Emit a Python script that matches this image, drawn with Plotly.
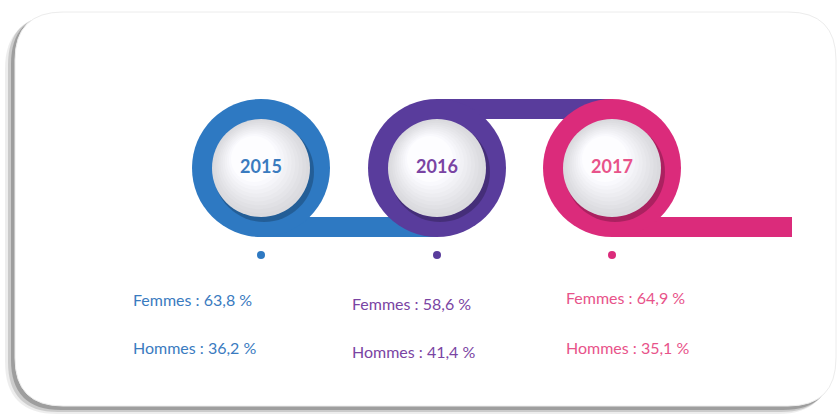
import plotly.graph_objects as go

# data
years = ["2015", "2016", "2017"]
femmes = [63.8, 58.6, 64.9]
hommes = [36.2, 41.4, 35.1]

# styles / layout
ring_colors = ["#2e79c2", "#593c9c", "#db2b7b"]
text_colors = ["#3a7bbf", "#7a44a3", "#e8538a"]
W, H = 838, 414
cx = [261, 437, 612]
cy = 168
R_OUT, R_IN = 69, 49
BAR = 20
text_x = [133, 352, 566]
row_f = [302, 306, 300]
row_h = [350, 354, 350]
FONT = "Lato, Roboto, sans-serif"


def fmt(label, v):
    return f"{label} : {v:.1f} %".replace(".", ",")


def circle(x, y, r, color, line=None):
    return dict(type="circle", xref="x", yref="y", layer="below",
                x0=x - r, x1=x + r, y0=y - r, y1=y + r,
                fillcolor=color, line=line or dict(width=0))


def rect(x0, y0, x1, y1, color):
    return dict(type="rect", xref="x", yref="y", layer="below",
                x0=x0, x1=x1, y0=y0, y1=y1, fillcolor=color, line=dict(width=0))


def rounded(x0, y0, x1, y1, r):
    return (f"M {x0 + r} {y0} L {x1 - r} {y0} Q {x1} {y0} {x1} {y0 + r} "
            f"L {x1} {y1 - r} Q {x1} {y1} {x1 - r} {y1} L {x0 + r} {y1} "
            f"Q {x0} {y1} {x0} {y1 - r} L {x0} {y0 + r} Q {x0} {y0} {x0 + r} {y0} Z")


shapes = []
# card with soft shadow
shapes.append(dict(type="path", xref="x", yref="y", layer="below",
                   path=rounded(5, 17, 830, 414, 52),
                   fillcolor="rgba(0,0,0,0.07)", line=dict(width=0)))
shapes.append(dict(type="path", xref="x", yref="y", layer="below",
                   path=rounded(8, 15, 831, 412, 50),
                   fillcolor="rgba(0,0,0,0.14)", line=dict(width=0)))
shapes.append(dict(type="path", xref="x", yref="y", layer="below",
                   path=rounded(11, 14, 833, 410, 50),
                   fillcolor="rgba(0,0,0,0.22)", line=dict(width=0)))
shapes.append(dict(type="path", xref="x", yref="y", layer="below",
                   path=rounded(15, 12, 836, 406, 48),
                   fillcolor="white", line=dict(color="#ececec", width=1)))

# connectors
shapes.append(rect(cx[0], cy + R_OUT - BAR, cx[1], cy + R_OUT, ring_colors[0]))
shapes.append(rect(cx[1], cy - R_OUT, cx[2], cy - R_OUT + BAR, ring_colors[1]))
shapes.append(rect(cx[2], cy + R_OUT - BAR, 792, cy + R_OUT, ring_colors[2]))

# rings and shaded inner discs
steps = 10
for i in range(len(years)):
    shapes.append(circle(cx[i], cy, R_OUT, ring_colors[i]))
    shapes.append(circle(cx[i] + 3, cy + 4, R_IN + 1, "rgba(0,0,0,0.22)"))
    for k in range(steps):
        t = k / (steps - 1)
        g = int(218 + (253 - 218) * t)
        shapes.append(circle(cx[i] - 7 * t, cy - 9 * t, R_IN - 26 * t,
                             f"rgb({g},{g},{min(255, g + 4)})"))

fig = go.Figure()

# year labels
fig.add_trace(go.Scatter(
    x=cx, y=[cy] * len(years), mode="text", text=years,
    textfont=dict(family=FONT, size=18, color=text_colors, weight="bold"),
    hoverinfo="skip", showlegend=False))

# dots
fig.add_trace(go.Scatter(
    x=cx, y=[255] * len(years), mode="markers",
    marker=dict(size=8, color=ring_colors), hoverinfo="skip", showlegend=False))

# percentages
fig.add_trace(go.Scatter(
    x=text_x, y=row_f, mode="text", textposition="middle right",
    text=[fmt("Femmes", v) for v in femmes],
    textfont=dict(family=FONT, size=16, color=text_colors),
    hoverinfo="skip", showlegend=False))
fig.add_trace(go.Scatter(
    x=text_x, y=row_h, mode="text", textposition="middle right",
    text=[fmt("Hommes", v) for v in hommes],
    textfont=dict(family=FONT, size=16, color=text_colors),
    hoverinfo="skip", showlegend=False))

fig.update_layout(
    width=W, height=H, margin=dict(l=0, r=0, t=0, b=0),
    paper_bgcolor="white", plot_bgcolor="white",
    shapes=shapes,
    xaxis=dict(range=[0, W], visible=False, fixedrange=True),
    yaxis=dict(range=[H, 0], visible=False, fixedrange=True),
)

fig.write_html("out.html", config={"displayModeBar": False},
               post_script="document.body.style.margin='0';document.body.style.overflow='hidden';")
